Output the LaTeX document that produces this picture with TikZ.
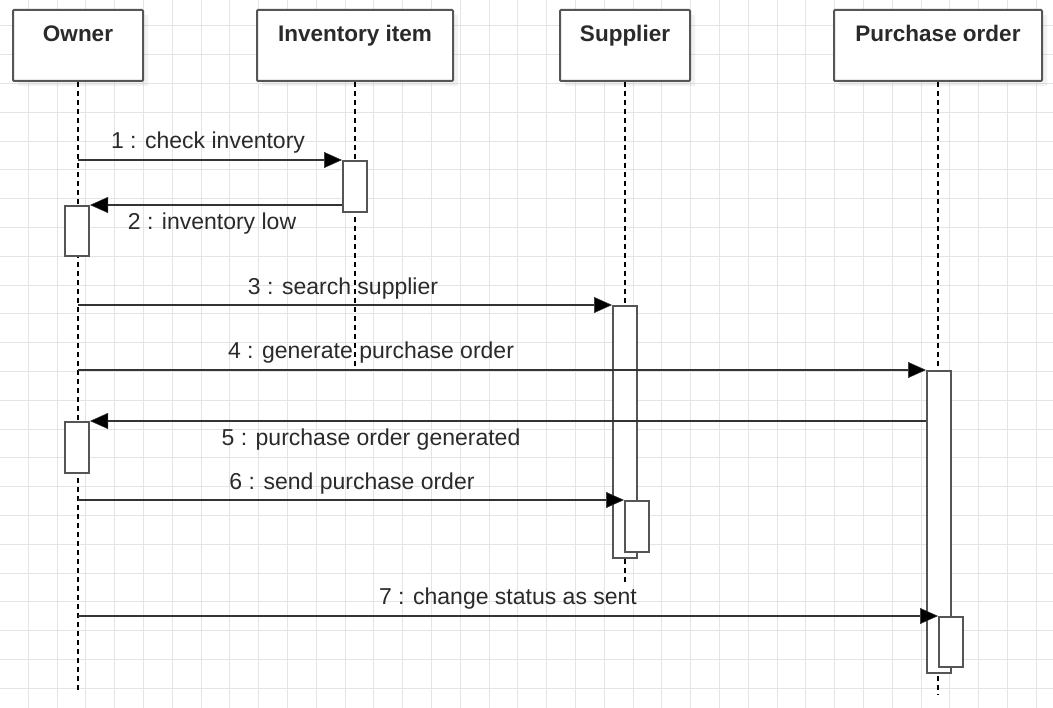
\documentclass[tikz,border=0pt]{standalone}
\usepackage{fontspec}
\setmainfont{Liberation Sans}
\usetikzlibrary{arrows.meta,shadows}
\definecolor{gridc}{HTML}{E4E4E4}
\definecolor{linec}{HTML}{333333}
\definecolor{boxc}{HTML}{555555}
\definecolor{txtc}{HTML}{2A2A2A}
\tikzset{
  gridline/.style={draw=gridc, line width=1pt},
  hdr/.style={draw=boxc, line width=2pt, fill=white, rounded corners=1pt,
    minimum height=71pt, text height=17pt, text depth=24pt, inner sep=0pt,
    text=txtc, font=\fontsize{22.5}{26}\selectfont\bfseries,
    drop shadow={opacity=0.10, shadow xshift=5pt, shadow yshift=-5pt}},
  act/.style={draw=boxc, line width=2pt, fill=white, minimum width=24pt,
    inner sep=0pt, anchor=north west},
  life/.style={draw=black, line width=1.6pt, dash pattern=on 5pt off 4pt},
  msg/.style={draw=linec, line width=2.2pt, -{Triangle[length=18pt,width=16pt,fill=black,line width=0.5pt]}},
  lbl/.style={font=\fontsize{23}{27}\selectfont, text=txtc, anchor=base, inner sep=0pt},
}
\begin{document}
\begin{tikzpicture}[x=1pt,y=-1pt]
\useasboundingbox (0,0) rectangle (1053,708);
\fill[white] (0,0) rectangle (1053,708);
% grid
\foreach \i in {0,...,37} \draw[gridline] ({28.8*\i-0.5},0) -- ({28.8*\i-0.5},708);
\foreach \j in {0,...,25} \draw[gridline] (0,{28.8*\j-2.9}) -- (1053,{28.8*\j-2.9});

% headers
\node[hdr, minimum width=130pt] (owner) at (78,45.5) {Owner};
\node[hdr, minimum width=196pt] (inv) at (355,45.5) {Inventory item};
\node[hdr, minimum width=130pt] (sup) at (625,45.5) {Supplier};
\node[hdr, minimum width=208pt] (po) at (938,45.5) {Purchase order};

% lifeline ends
\coordinate (oend) at (78,692);
\coordinate (iend) at (355,370);
\coordinate (send) at (625,582);
\coordinate (pend) at (938,695);
\draw[life] (owner.south) -- (oend);
\draw[life] (inv.south) -- (iend);
\draw[life] (sup.south) -- (send);
\draw[life] (po.south) -- (pend);

% activations
\node[act, minimum height=51pt] (ia) at (342,160) {};
\node[act, minimum height=50pt] (oa1) at (64,205) {};
\node[act, minimum height=252pt] (sa) at (612,305) {};
\node[act, minimum height=302pt] (pa) at (926,370) {};
\node[act, minimum height=51pt] (oa2) at (64,421) {};
\node[act, minimum height=51pt] (sa2) at (624,500) {};
\node[act, minimum height=50pt] (pa2) at (938,616) {};

% messages
\coordinate (i2) at (342,205);
\coordinate (p5) at (926,421);
\draw[msg] (owner.south |- ia.north) -- (ia.north west);
\draw[msg] (i2) -- (oa1.north east);
\draw[msg] (owner.south |- sa.north) -- (sa.north west);
\draw[msg] (owner.south |- pa.north) -- (pa.north west);
\draw[msg] (p5) -- (oa2.north east);
\draw[msg] (owner.south |- sa2.north) -- (sa2.north west);
\draw[msg] (owner.south |- pa2.north) -- (pa2.north west);

% labels
\node[lbl] (l1) at (208,149) {1 : check inventory};
\node[lbl] (l2) at (212,230) {2 : inventory low};
\node[lbl] (l3) at (343,295) {3 : search supplier};
\node[lbl] (l4) at (371,359) {4 : generate purchase order};
\node[lbl] (l5) at (371,446) {5 : purchase order generated};
\node[lbl] (l6) at (352,490) {6 : send purchase order};
\node[lbl] (l7) at (508,605) {7 : change status as sent};
\end{tikzpicture}
\end{document}
